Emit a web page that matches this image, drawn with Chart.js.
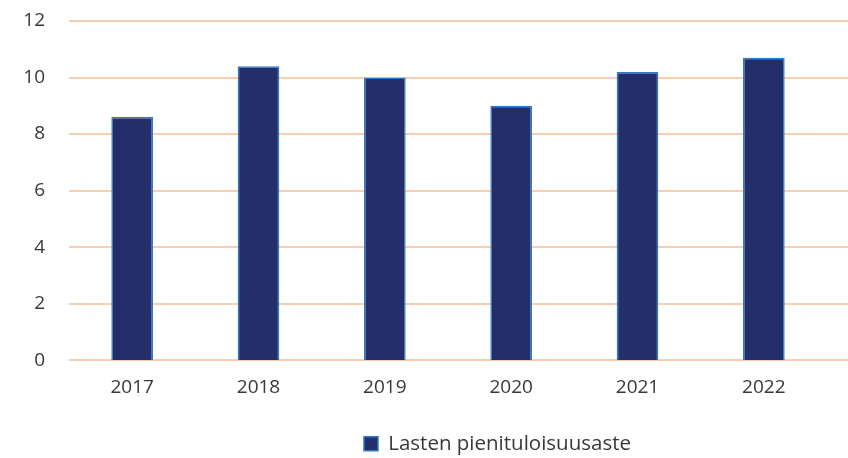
<!DOCTYPE html>
<html>
<head>
<meta charset="utf-8">
<script src="https://cdn.jsdelivr.net/npm/chart.js@4/dist/chart.umd.min.js"></script>
<style>
html,body{margin:0;padding:0;background:#fff;}
#wrap{width:848px;height:458px;position:relative;}
</style>
</head>
<body>
<div id="wrap"><canvas id="c" width="848" height="458"></canvas></div>
<script>
const years = ["2017", "2018", "2019", "2020", "2021", "2022"];
const lowIncomeRate = [8.6, 10.4, 10.0, 9.0, 10.2, 10.7];
const seriesName = "Lasten pienituloisuusaste";
const yTicks = [0, 2, 4, 6, 8, 10, 12];

const FONT = "'Open Sans', 'Noto Sans', sans-serif";

const gridPlugin = {
  id: 'extGrid',
  afterLayout(chart) {
    const lg = chart.legend;
    if (lg) { lg.left += 84; lg.right += 84; }
  },
  beforeDatasetsDraw(chart) {
    const ctx = chart.ctx, y = chart.scales.y, area = chart.chartArea;
    ctx.save();
    ctx.strokeStyle = '#F9CFB2';
    ctx.lineWidth = 2;
    yTicks.forEach(v => {
      const py = Math.round(y.getPixelForValue(v));
      ctx.beginPath();
      ctx.moveTo(area.left, py);
      ctx.lineTo(chart.width, py);
      ctx.stroke();
    });
    ctx.restore();
  }
};

new Chart(document.getElementById('c'), {
  type: 'bar',
  data: {
    labels: years,
    datasets: [{
      label: seriesName,
      data: lowIncomeRate,
      backgroundColor: '#232F6A',
      borderColor: '#2F7AC8',
      borderWidth: 1.5,
      barPercentage: 0.66,
      categoryPercentage: 0.5
    }]
  },
  options: {
    responsive: false,
    animation: false,
    layout: { padding: { top: 21, right: 21, left: 0, bottom: -6 } },
    scales: {
      y: {
        min: 0, max: 12,
        afterBuildTicks(s) { s.ticks = yTicks.map(v => ({ value: v })); },
        grid: { display: false, drawTicks: false },
        border: { display: false },
        ticks: { color: '#383838', font: { family: FONT, size: 19 }, padding: 24 },
        afterFit(s) { s.width = 69; s.paddingTop = 0; s.paddingBottom = 0; }
      },
      x: {
        grid: { display: false, drawTicks: false },
        border: { display: false },
        ticks: { color: '#383838', font: { family: FONT, size: 19 }, padding: 16 }
      }
    },
    plugins: {
      legend: {
        position: 'bottom',
        labels: {
          color: '#383838',
          font: { family: FONT, size: 20.5 },
          boxWidth: 14, boxHeight: 14,
          padding: 18.5
        }
      },
      tooltip: { enabled: false }
    }
  },
  plugins: [gridPlugin]
});
</script>
</body>
</html>
